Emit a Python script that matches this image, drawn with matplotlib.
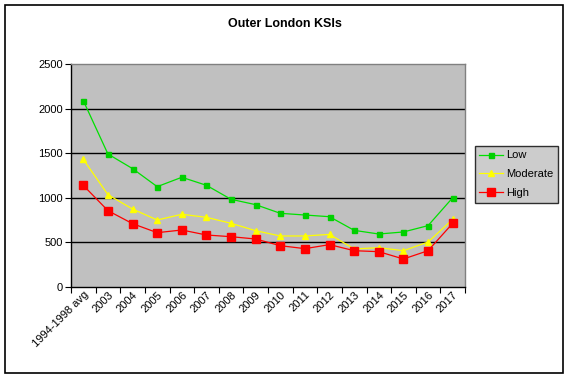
import matplotlib
matplotlib.use("Agg")
import matplotlib.pyplot as plt
from matplotlib.patches import Rectangle

categories = ["1994-1998 avg", "2003", "2004", "2005", "2006", "2007", "2008", "2009",
              "2010", "2011", "2012", "2013", "2014", "2015", "2016", "2017"]
low = [2089, 1491, 1327, 1125, 1230, 1140, 983, 923, 826, 807, 788, 635, 594, 617, 688, 1001]
moderate = [1431, 1035, 874, 751, 815, 781, 714, 631, 572, 572, 590, 426, 441, 407, 504, 759]
high = [1139, 856, 710, 609, 639, 583, 564, 538, 463, 430, 475, 407, 396, 314, 407, 714]
yticks = [0, 500, 1000, 1500, 2000, 2500]

plt.rcParams['font.family'] = ['Liberation Sans', 'DejaVu Sans']

W, H = 569, 377
fig = plt.figure(figsize=(W / 100, H / 100), dpi=100)
fig.patch.set_facecolor("white")

# outer border
fig.add_artist(Rectangle((5 / W, 1 - 373 / H), (563 - 5) / W, (373 - 5) / H,
                         transform=fig.transFigure, fill=False, edgecolor="black", lw=1.2))

l, r, t, b = 71, 465, 64, 287
ax = fig.add_axes([l / W, 1 - b / H, (r - l) / W, (b - t) / H])
ax.set_facecolor("#c0c0c0")

x = list(range(len(categories)))
ax.plot(x, low, color="#00e000", lw=0.9, marker="s", ms=3.6, mec="#00d000", mfc="#00d000", label="Low")
ax.plot(x, moderate, color="#ffff00", lw=0.9, marker="^", ms=5, mec="#ffff00", mfc="#ffff00", label="Moderate")
ax.plot(x, high, color="#ff0000", lw=0.9, marker="s", ms=6.2, mec="#ff0000", mfc="#ff0000", label="High")

ax.set_xlim(-0.5, len(categories) - 0.5)
ax.set_ylim(0, 2500)
ax.set_yticks(yticks)
ax.set_yticklabels([str(v) for v in yticks], fontsize=8)
for v in yticks[1:-1]:
    ax.axhline(v, color="black", lw=1.0, zorder=0.5)

ax.set_xticks([i - 0.5 for i in range(len(categories) + 1)], minor=False)
ax.set_xticklabels([])
ax.set_xticks(x, minor=True)
ax.set_xticklabels(categories, minor=True, rotation=45, ha="right", va="top",
                   fontsize=8, rotation_mode="anchor")
ax.tick_params(axis="x", which="minor", length=0, pad=2)
ax.tick_params(axis="x", which="major", length=4, direction="out", width=0.8)
ax.tick_params(axis="y", length=4, direction="out", width=0.8, pad=2)

for s in ["top", "right"]:
    ax.spines[s].set_color("#808080")
    ax.spines[s].set_linewidth(1.0)
for s in ["left", "bottom"]:
    ax.spines[s].set_color("black")
    ax.spines[s].set_linewidth(1.0)

fig.text(285 / W, 1 - 24 / H, "Outer London KSIs", ha="center", va="center",
         fontsize=9, fontweight="bold")

leg = fig.legend(loc="upper left", bbox_to_anchor=(475 / W, 1 - 146 / H),
                 fontsize=8, frameon=True, fancybox=False, facecolor="#c0c0c0",
                 edgecolor="black", handlelength=2.1, borderpad=0.4,
                 labelspacing=0.8, handletextpad=0.3, borderaxespad=0)
leg.get_frame().set_linewidth(1.0)

fig.savefig("out.png", dpi=100)
